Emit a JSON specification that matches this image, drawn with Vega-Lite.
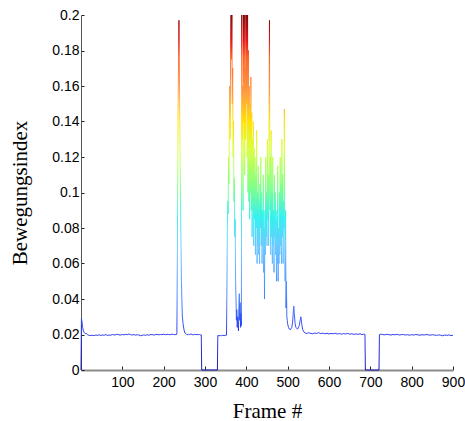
{
  "$schema": "https://vega.github.io/schema/vega-lite/v6.json",
  "width": 372,
  "height": 355,
  "autosize": {"type": "none"},
  "padding": {"left": 81, "top": 15, "right": 12, "bottom": 51},
  "background": "white",
  "config": {"view": {"stroke": null}},
  "data": {"values": [
    {"frame":0,"index":0},{"frame":1,"index":0.029},{"frame":2,"index":0.028},{"frame":3,"index":0.026},{"frame":4,"index":0.024},{"frame":6,"index":0.022},{"frame":8,"index":0.021},{"frame":10,"index":0.0205},{"frame":13,"index":0.0205},{"frame":16,"index":0.0198},{"frame":20,"index":0.0195},{"frame":24,"index":0.0194},{"frame":28,"index":0.0196},{"frame":32,"index":0.0194},{"frame":36,"index":0.0197},{"frame":40,"index":0.0195},{"frame":44,"index":0.0198},{"frame":48,"index":0.0195},{"frame":52,"index":0.0197},{"frame":56,"index":0.0196},{"frame":60,"index":0.0199},{"frame":64,"index":0.0195},{"frame":68,"index":0.0197},{"frame":72,"index":0.0196},{"frame":76,"index":0.02},{"frame":80,"index":0.0197},{"frame":84,"index":0.0199},{"frame":88,"index":0.0201},{"frame":92,"index":0.0198},{"frame":96,"index":0.0197},{"frame":100,"index":0.02},{"frame":104,"index":0.0198},{"frame":108,"index":0.0201},{"frame":112,"index":0.0199},{"frame":116,"index":0.0203},{"frame":120,"index":0.0199},{"frame":124,"index":0.0197},{"frame":128,"index":0.02},{"frame":132,"index":0.0196},{"frame":136,"index":0.0199},{"frame":140,"index":0.0197},{"frame":144,"index":0.0193},{"frame":148,"index":0.0195},{"frame":152,"index":0.0198},{"frame":156,"index":0.0195},{"frame":160,"index":0.0199},{"frame":164,"index":0.0196},{"frame":168,"index":0.0199},{"frame":172,"index":0.02},{"frame":176,"index":0.0197},{"frame":180,"index":0.0199},{"frame":184,"index":0.0201},{"frame":188,"index":0.0198},{"frame":192,"index":0.02},{"frame":196,"index":0.0199},{"frame":200,"index":0.0202},{"frame":204,"index":0.0199},{"frame":208,"index":0.0201},{"frame":212,"index":0.02},{"frame":216,"index":0.0199},{"frame":220,"index":0.0202},{"frame":224,"index":0.02},{"frame":228,"index":0.0199},{"frame":231,"index":0.02},
    {"frame":232,"index":0.021},{"frame":233,"index":0.06},{"frame":235,"index":0.15},{"frame":237,"index":0.197},{"frame":239,"index":0.14},{"frame":241,"index":0.09},{"frame":243,"index":0.05},{"frame":245,"index":0.031},{"frame":247,"index":0.026},{"frame":249,"index":0.023},{"frame":251,"index":0.021},{"frame":254,"index":0.0205},{"frame":257,"index":0.0198},{"frame":260,"index":0.0201},{"frame":263,"index":0.0199},{"frame":266,"index":0.0203},{"frame":269,"index":0.02},{"frame":272,"index":0.0198},{"frame":275,"index":0.0201},{"frame":278,"index":0.0199},{"frame":281,"index":0.02},{"frame":284,"index":0.0199},{"frame":287,"index":0.02},{"frame":289,"index":0.0198},{"frame":291,"index":0.0198},{"frame":292,"index":0},{"frame":300,"index":0},{"frame":310,"index":0},{"frame":320,"index":0},{"frame":330,"index":0},{"frame":331,"index":0.0195},{"frame":334,"index":0.0192},{"frame":337,"index":0.0195},{"frame":340,"index":0.0193},{"frame":343,"index":0.0196},{"frame":346,"index":0.0193},{"frame":349,"index":0.0195},{"frame":352,"index":0.0196},
    {"frame":353,"index":0.045},{"frame":354,"index":0.078},{"frame":355,"index":0.095},{"frame":356,"index":0.088},{"frame":357,"index":0.12},{"frame":358,"index":0.105},{"frame":359,"index":0.14},{"frame":360,"index":0.16},{"frame":361,"index":0.13},{"frame":362,"index":0.185},{"frame":363,"index":0.2},{"frame":364,"index":0.175},{"frame":365,"index":0.2},{"frame":366,"index":0.15},{"frame":367,"index":0.17},{"frame":368,"index":0.12},{"frame":369,"index":0.14},{"frame":370,"index":0.095},{"frame":371,"index":0.108},{"frame":372,"index":0.075},{"frame":373,"index":0.085},{"frame":374,"index":0.05},{"frame":375,"index":0.04},{"frame":376,"index":0.028},{"frame":377,"index":0.034},{"frame":378,"index":0.024},{"frame":379,"index":0.03},{"frame":380,"index":0.026},{"frame":381,"index":0.022},{"frame":382,"index":0.036},{"frame":383,"index":0.043},{"frame":384,"index":0.028},{"frame":385,"index":0.038},{"frame":386,"index":0.024},{"frame":387,"index":0.032},{"frame":388,"index":0.025},{"frame":389,"index":0.2},{"frame":390,"index":0.13},{"frame":391,"index":0.16},{"frame":392,"index":0.09},{"frame":393,"index":0.2},{"frame":394,"index":0.14},{"frame":395,"index":0.2},{"frame":396,"index":0.11},{"frame":397,"index":0.17},{"frame":398,"index":0.13},{"frame":399,"index":0.2},{"frame":400,"index":0.15},{"frame":401,"index":0.2},{"frame":402,"index":0.12},{"frame":403,"index":0.2},{"frame":404,"index":0.1},{"frame":405,"index":0.18},{"frame":406,"index":0.095},{"frame":407,"index":0.16},{"frame":408,"index":0.085},{"frame":409,"index":0.15},{"frame":410,"index":0.1},{"frame":411,"index":0.165},{"frame":412,"index":0.09},{"frame":413,"index":0.145},{"frame":414,"index":0.075},{"frame":415,"index":0.13},{"frame":416,"index":0.09},{"frame":417,"index":0.14},{"frame":418,"index":0.07},{"frame":419,"index":0.125},{"frame":420,"index":0.085},{"frame":421,"index":0.12},{"frame":422,"index":0.065},{"frame":423,"index":0.11},{"frame":424,"index":0.08},{"frame":425,"index":0.135},{"frame":426,"index":0.06},{"frame":427,"index":0.1},{"frame":428,"index":0.07},{"frame":429,"index":0.115},{"frame":430,"index":0.065},{"frame":431,"index":0.095},{"frame":432,"index":0.06},{"frame":433,"index":0.105},{"frame":434,"index":0.08},{"frame":435,"index":0.12},{"frame":436,"index":0.07},{"frame":437,"index":0.1},{"frame":438,"index":0.06},{"frame":439,"index":0.09},{"frame":440,"index":0.07},{"frame":441,"index":0.11},{"frame":442,"index":0.055},{"frame":443,"index":0.08},{"frame":444,"index":0.04},{"frame":445,"index":0.09},{"frame":446,"index":0.065},{"frame":447,"index":0.12},{"frame":448,"index":0.075},{"frame":449,"index":0.1},{"frame":450,"index":0.07},{"frame":451,"index":0.13},{"frame":452,"index":0.085},{"frame":453,"index":0.11},{"frame":454,"index":0.07},{"frame":455,"index":0.14},{"frame":456,"index":0.197},{"frame":457,"index":0.09},{"frame":458,"index":0.12},{"frame":459,"index":0.065},{"frame":460,"index":0.135},{"frame":461,"index":0.075},{"frame":462,"index":0.1},{"frame":463,"index":0.06},{"frame":464,"index":0.12},{"frame":465,"index":0.07},{"frame":466,"index":0.09},{"frame":467,"index":0.055},{"frame":468,"index":0.11},{"frame":469,"index":0.075},{"frame":470,"index":0.1},{"frame":471,"index":0.065},{"frame":472,"index":0.085},{"frame":473,"index":0.05},{"frame":474,"index":0.09},{"frame":475,"index":0.06},{"frame":476,"index":0.115},{"frame":477,"index":0.05},{"frame":478,"index":0.08},{"frame":479,"index":0.06},{"frame":480,"index":0.1},{"frame":481,"index":0.065},{"frame":482,"index":0.12},{"frame":483,"index":0.07},{"frame":484,"index":0.105},{"frame":485,"index":0.06},{"frame":486,"index":0.13},{"frame":487,"index":0.075},{"frame":488,"index":0.11},{"frame":489,"index":0.06},{"frame":490,"index":0.095},{"frame":491,"index":0.08},{"frame":492,"index":0.147},{"frame":493,"index":0.07},{"frame":494,"index":0.05},{"frame":495,"index":0.09},{"frame":496,"index":0.035},{"frame":497,"index":0.05},{"frame":498,"index":0.03},{"frame":499,"index":0.028},{"frame":500,"index":0.026},{"frame":502,"index":0.024},{"frame":504,"index":0.023},{"frame":507,"index":0.0228},{"frame":510,"index":0.024},{"frame":512,"index":0.027},{"frame":514,"index":0.034},{"frame":515,"index":0.036},{"frame":516,"index":0.032},{"frame":518,"index":0.026},{"frame":520,"index":0.024},{"frame":524,"index":0.023},{"frame":528,"index":0.025},{"frame":531,"index":0.029},{"frame":532,"index":0.03},{"frame":534,"index":0.026},{"frame":536,"index":0.023},{"frame":539,"index":0.0215},{"frame":542,"index":0.021},
    {"frame":545,"index":0.0205},{"frame":550,"index":0.021},{"frame":555,"index":0.0207},{"frame":560,"index":0.0204},{"frame":565,"index":0.0208},{"frame":570,"index":0.0206},{"frame":575,"index":0.021},{"frame":580,"index":0.0205},{"frame":585,"index":0.0208},{"frame":590,"index":0.0204},{"frame":595,"index":0.0207},{"frame":600,"index":0.0203},{"frame":605,"index":0.0206},{"frame":610,"index":0.0204},{"frame":615,"index":0.0207},{"frame":620,"index":0.0203},{"frame":625,"index":0.0205},{"frame":630,"index":0.0202},{"frame":635,"index":0.0205},{"frame":640,"index":0.0203},{"frame":645,"index":0.0206},{"frame":650,"index":0.0202},{"frame":655,"index":0.0204},{"frame":660,"index":0.0201},{"frame":665,"index":0.0203},{"frame":670,"index":0.0201},{"frame":675,"index":0.0204},{"frame":680,"index":0.0199},{"frame":684,"index":0.0202},{"frame":687,"index":0.0201},{"frame":688,"index":0},{"frame":700,"index":0},{"frame":710,"index":0},{"frame":721,"index":0},{"frame":722,"index":0.0199},{"frame":726,"index":0.0202},{"frame":730,"index":0.02},{"frame":735,"index":0.0198},{"frame":740,"index":0.0201},{"frame":745,"index":0.0199},{"frame":750,"index":0.0197},{"frame":755,"index":0.02},{"frame":760,"index":0.0198},{"frame":765,"index":0.0201},{"frame":770,"index":0.0197},{"frame":775,"index":0.0199},{"frame":780,"index":0.02},{"frame":785,"index":0.0197},{"frame":790,"index":0.0199},{"frame":795,"index":0.0196},{"frame":800,"index":0.0199},{"frame":805,"index":0.0197},{"frame":810,"index":0.02},{"frame":815,"index":0.0198},{"frame":820,"index":0.0196},{"frame":825,"index":0.0199},{"frame":830,"index":0.0197},{"frame":835,"index":0.02},{"frame":840,"index":0.0198},{"frame":845,"index":0.0196},{"frame":850,"index":0.0199},{"frame":855,"index":0.0197},{"frame":860,"index":0.0195},{"frame":865,"index":0.0198},{"frame":870,"index":0.0196},{"frame":875,"index":0.0193},{"frame":880,"index":0.0197},{"frame":885,"index":0.0195},{"frame":890,"index":0.0198},{"frame":895,"index":0.0194},{"frame":900,"index":0.0196}
  ]},
  "mark": {
    "type": "line",
    "strokeWidth": 1,
    "opacity": 0.9,
    "clip": false,
    "stroke": {
      "gradient": "linear",
      "x1": 0, "y1": 1, "x2": 0, "y2": 0,
      "stops": [
        {"offset": 0, "color": "#0000b0"},
        {"offset": 0.1, "color": "#1a28ee"},
        {"offset": 0.2, "color": "#3d7bff"},
        {"offset": 0.35, "color": "#66c8ff"},
        {"offset": 0.43, "color": "#30f0f0"},
        {"offset": 0.52, "color": "#80ff80"},
        {"offset": 0.62, "color": "#d8ff40"},
        {"offset": 0.7, "color": "#ffe000"},
        {"offset": 0.78, "color": "#ff9a40"},
        {"offset": 0.88, "color": "#ff6020"},
        {"offset": 0.93, "color": "#e01010"},
        {"offset": 1, "color": "#800000"}
      ]
    }
  },
  "encoding": {
    "x": {
      "field": "frame", "type": "quantitative",
      "scale": {"domain": [0, 900], "nice": false, "zero": false},
      "axis": {
        "title": "Frame #",
        "values": [100, 200, 300, 400, 500, 600, 700, 800, 900],
        "grid": false,
        "labelFont": "Liberation Sans", "labelFontSize": 14, "labelColor": "#000",
        "labelFlush": false, "labelOverlap": false, "labelPadding": 9,
        "tickSize": -4, "tickColor": "#222", "tickWidth": 1,
        "domainColor": "#8c8c8c", "domainWidth": 2,
        "titleFont": "Liberation Serif", "titleFontSize": 21, "titleFontWeight": "normal", "titleColor": "#000", "titlePadding": 11
      }
    },
    "y": {
      "field": "index", "type": "quantitative",
      "scale": {"domain": [0, 0.2], "nice": false},
      "axis": {
        "title": "Bewegungsindex",
        "values": [0, 0.02, 0.04, 0.06, 0.08, 0.1, 0.12, 0.14, 0.16, 0.18, 0.2],
        "format": ".2~f",
        "grid": false,
        "labelFont": "Liberation Sans", "labelFontSize": 14, "labelColor": "#000",
        "labelFlush": false, "labelOverlap": false, "labelPadding": 5,
        "tickSize": -3, "tickColor": "#222", "tickWidth": 1,
        "domainColor": "#555", "domainWidth": 1,
        "titleFont": "Liberation Serif", "titleFontSize": 21, "titleFontWeight": "normal", "titleColor": "#000", "titlePadding": 21
      }
    }
  }
}
